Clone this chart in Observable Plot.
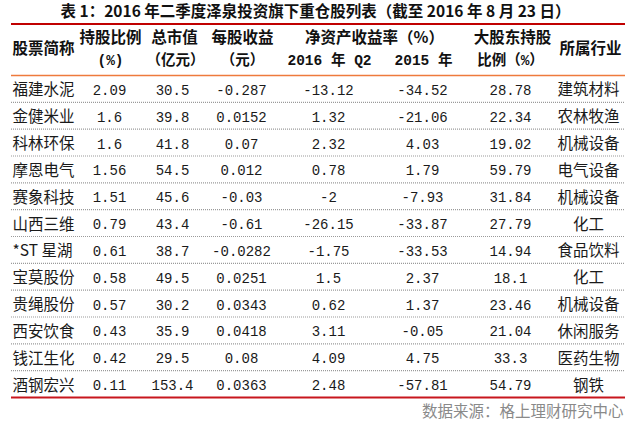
<!DOCTYPE html>
<html>
<head>
<meta charset="utf-8">
<script src="https://cdn.jsdelivr.net/npm/d3@7"></script>
<script src="https://cdn.jsdelivr.net/npm/@observablehq/plot@0.6"></script>
<style>
  html, body { margin: 0; padding: 0; background: #fff; }
  #chart svg { display: block; }
</style>
</head>
<body>
<div id="chart"></div>
<script>
// ---- data ----
const title = "表 1：2016 年二季度泽泉投资旗下重仓股列表（截至 2016 年 8 月 23 日）";
const source = "数据来源：格上理财研究中心";
const names = ["福建水泥","金健米业","科林环保","摩恩电气","赛象科技","山西三维","*ST 星湖","宝莫股份","贵绳股份","西安饮食","钱江生化","酒钢宏兴"];
const holdPct = [2.09, 1.6, 1.6, 1.56, 1.51, 0.79, 0.61, 0.58, 0.57, 0.43, 0.42, 0.11];
const mktCap = [30.5, 39.8, 41.8, 54.5, 45.6, 43.4, 38.7, 49.5, 30.2, 35.9, 29.5, 153.4];
const eps = [-0.287, 0.0152, 0.07, 0.012, -0.03, -0.61, -0.0282, 0.0251, 0.0343, 0.0418, 0.08, 0.0363];
const roeQ2 = [-13.12, 1.32, 2.32, 0.78, -2, -26.15, -1.75, 1.5, 0.62, 3.11, 4.09, 2.48];
const roe2015 = [-34.52, -21.06, 4.03, 1.79, -7.93, -33.87, -33.53, 2.37, 1.37, -0.05, 4.75, -57.81];
const majorPct = [28.78, 22.34, 19.02, 59.79, 31.84, 27.79, 14.94, 18.1, 23.46, 21.04, 33.3, 54.79];
const industry = ["建筑材料","农林牧渔","机械设备","电气设备","机械设备","化工","食品饮料","化工","机械设备","休闲服务","医药生物","钢铁"];
const headerFirst = "股票简称";
const headerRow1 = ["持股比例","总市值","每股收益","净资产收益率（%）","大股东持股","所属行业"];
const headerRow2 = ["(%)","（亿元）","（元）","2016 年 Q2","2015 年","比例（%）"];

// ---- layout (not data) ----
const W = 630, H = 422;
const rowTop = 75, rowH = 322 / 12;
const toRow = (py) => (py - rowTop) / rowH;         // pixel -> row units
const numCols = [holdPct, mktCap, eps, roeQ2, roe2015, majorPct];
const numX = [109, 172, 241, 328, 422, 510];
const nameX = 12, industryX = 588;
const h1X = [110, 174, 242, 374, 512, 590];
const h1Y = [38, 38, 38, 38, 38, 49].map(toRow);
const h2X = [110, 175, 242, 329, 423, 510];
const h2Y = toRow(60);
const lineX1 = 11, lineX2 = 625;
const cjk = "'Noto Sans CJK SC', sans-serif";
const mono = "'Liberation Mono', 'Noto Sans CJK SC', monospace";

const numCells = [];
numCols.forEach((col, c) => col.forEach((v, r) => numCells.push({x: numX[c], y: r + 0.5, t: String(v)})));
const nameCells = names.map((t, r) => ({x: nameX, y: r + 0.5, t}));
const indCells = industry.map((t, r) => ({x: industryX, y: r + 0.5, t}));
const head1 = headerRow1.map((t, i) => ({x: h1X[i], y: h1Y[i], t}));
const head2 = headerRow2.map((t, i) => ({x: h2X[i], y: h2Y, t}));

const plot = Plot.plot({
  width: W, height: H,
  margin: 0,
  x: {type: "linear", domain: [0, W], range: [0, W], axis: null},
  y: {type: "linear", domain: [toRow(0), toRow(H)], range: [0, H], axis: null},
  style: {background: "#fff"},
  marks: [
    // title
    Plot.text([title], {x: [W / 2], y: [toRow(11.5)], text: d => d, fontFamily: cjk, fontSize: 15.5, fontWeight: "bold", fill: "#111"}),
    // rules
    Plot.ruleY([toRow(23.5)], {x1: lineX1, x2: lineX2, stroke: "#c00000", strokeWidth: 2}),
    Plot.ruleY([0], {x1: lineX1, x2: lineX2, stroke: "#ee7a3c", strokeWidth: 1.5}),
    Plot.ruleY(d3.range(1, 12), {x1: lineX1, x2: lineX2, stroke: "#9a9a9a", strokeWidth: 1.2, strokeDasharray: "1,1"}),
    Plot.ruleY([12], {x1: lineX1, x2: lineX2, stroke: "#c8161d", strokeWidth: 2}),
    // header
    Plot.text([headerFirst], {x: [nameX], y: [toRow(49)], text: d => d, textAnchor: "start", fontFamily: cjk, fontSize: 15.5, fontWeight: "bold", fill: "#111"}),
    Plot.text(head1, {x: "x", y: "y", text: "t", fontFamily: cjk, fontSize: 15.5, fontWeight: "bold", fill: "#111"}),
    Plot.text(head2, {x: "x", y: "y", text: "t", fontFamily: mono, fontSize: 14.5, fontWeight: "bold", fill: "#111"}),
    // body
    Plot.text(nameCells, {x: "x", y: "y", text: "t", textAnchor: "start", dy: 1.5, fontFamily: cjk, fontSize: 15.5, fill: "#1a1a1a"}),
    Plot.text(numCells, {x: "x", y: "y", text: "t", dy: 1.5, fontFamily: mono, fontSize: 14, fill: "#1a1a1a"}),
    Plot.text(indCells, {x: "x", y: "y", text: "t", dy: 1.5, fontFamily: cjk, fontSize: 15.5, fill: "#1a1a1a"}),
    // source
    Plot.text([source], {x: [623], y: [toRow(412)], text: d => d, textAnchor: "end", fontFamily: cjk, fontSize: 15.5, fill: "#8a8a8a"})
  ]
});
document.getElementById("chart").appendChild(plot);
</script>
</body>
</html>
